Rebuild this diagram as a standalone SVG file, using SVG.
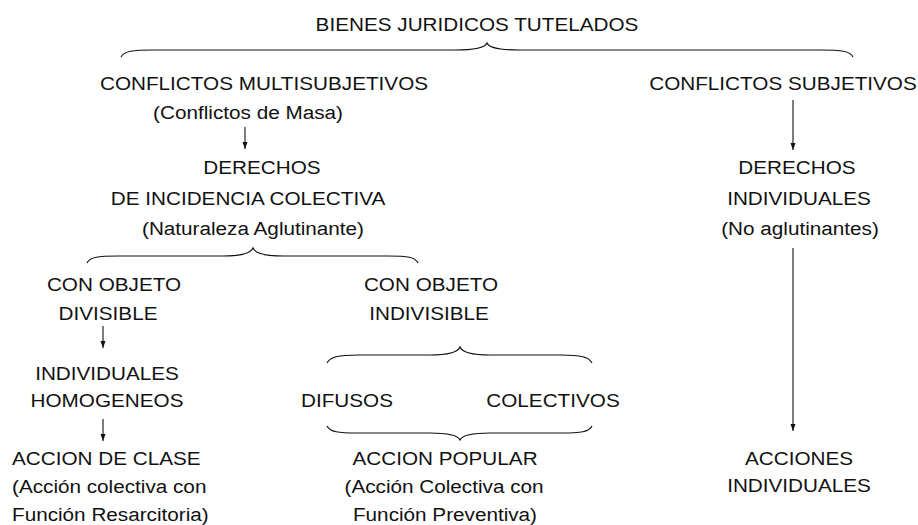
<svg xmlns="http://www.w3.org/2000/svg" width="918" height="525" viewBox="0 0 918 525">
<style>
.t{font-family:"Liberation Sans",Arial,sans-serif;font-size:19px;fill:#111;text-anchor:middle}
.s{text-anchor:start}
.br{fill:none;stroke:#111;stroke-width:1.2}
.ar{stroke:#111;stroke-width:1.1;fill:none}
</style>
<defs>
<marker id="ah" markerUnits="userSpaceOnUse" markerWidth="7" markerHeight="6" refX="7" refY="3" orient="auto">
<path d="M0,0.5 L7,3 L0,5.5 z" fill="#111"/>
</marker>
</defs>
<rect width="918" height="525" fill="#fff"/>
<g id="connectors">
<path class="br" d="M121,57 C124,51 133,50 153,50 L455,50 C475,50 485,48 487,43 C489,48 499,50 519,50 L821,50 C841,50 850,51 853,57"/>
<path class="br" d="M87,263 C90,257 98,256 118,256 L223,256 C243,256 251,253 253,248 C255,253 263,256 283,256 L388,256 C408,256 415,257 418,263"/>
<path class="br" d="M327,363 C330,357 338,355 358,355 L430,355 C450,355 458,352 460,347 C462,352 470,355 490,355 L561,355 C581,355 589,357 592,363"/>
<path class="br" d="M327,426 C330,432 338,433 358,433 L430,433 C450,433 458,436 460,440 C462,436 470,433 490,433 L561,433 C581,433 589,432 592,426"/>
<line class="ar" x1="245" y1="127" x2="245" y2="149" marker-end="url(#ah)"/>
<line class="ar" x1="103" y1="326" x2="103" y2="348" marker-end="url(#ah)"/>
<line class="ar" x1="103" y1="419" x2="103" y2="441" marker-end="url(#ah)"/>
<line class="ar" x1="793" y1="100" x2="793" y2="150" marker-end="url(#ah)"/>
<line class="ar" x1="793" y1="248" x2="793" y2="431" marker-end="url(#ah)"/>
</g>
<g id="n-bienes"><text class="t" transform="translate(477,31) scale(1.09,1)">BIENES JURIDICOS TUTELADOS</text></g>
<g id="n-multi">
<text class="t" transform="translate(264,90) scale(1.09,1)">CONFLICTOS MULTISUBJETIVOS</text>
<text class="t" transform="translate(248,119) scale(1.09,1)">(Conflictos de Masa)</text>
</g>
<g id="n-subj"><text class="t" transform="translate(783,90) scale(1.09,1)">CONFLICTOS SUBJETIVOS</text></g>
<g id="n-dic">
<text class="t" transform="translate(262,174) scale(1.09,1)">DERECHOS</text>
<text class="t" transform="translate(248,205) scale(1.09,1)">DE INCIDENCIA COLECTIVA</text>
<text class="t" transform="translate(253,235) scale(1.09,1)">(Naturaleza Aglutinante)</text>
</g>
<g id="n-dind">
<text class="t" transform="translate(797,174) scale(1.09,1)">DERECHOS</text>
<text class="t" transform="translate(799,205) scale(1.09,1)">INDIVIDUALES</text>
<text class="t" transform="translate(800,235) scale(1.09,1)">(No aglutinantes)</text>
</g>
<g id="n-div">
<text class="t" transform="translate(114,291) scale(1.09,1)">CON OBJETO</text>
<text class="t" transform="translate(108,320) scale(1.09,1)">DIVISIBLE</text>
</g>
<g id="n-indiv">
<text class="t" transform="translate(431,291) scale(1.09,1)">CON OBJETO</text>
<text class="t" transform="translate(429,320) scale(1.09,1)">INDIVISIBLE</text>
</g>
<g id="n-ih">
<text class="t" transform="translate(107,380) scale(1.09,1)">INDIVIDUALES</text>
<text class="t" transform="translate(107,407) scale(1.09,1)">HOMOGENEOS</text>
</g>
<g id="n-difusos"><text class="t" transform="translate(347,407) scale(1.09,1)">DIFUSOS</text></g>
<g id="n-colectivos"><text class="t" transform="translate(553,407) scale(1.09,1)">COLECTIVOS</text></g>
<g id="n-clase">
<text class="t s" transform="translate(12,465) scale(1.09,1)">ACCION DE CLASE</text>
<text class="t s" transform="translate(12,493) scale(1.09,1)">(Acción colectiva con</text>
<text class="t s" transform="translate(12,521) scale(1.09,1)">Función Resarcitoria)</text>
</g>
<g id="n-popular">
<text class="t" transform="translate(445,465) scale(1.09,1)">ACCION POPULAR</text>
<text class="t" transform="translate(444,493) scale(1.09,1)">(Acción Colectiva con</text>
<text class="t" transform="translate(445,521) scale(1.09,1)">Función Preventiva)</text>
</g>
<g id="n-acciones">
<text class="t" transform="translate(799,465) scale(1.09,1)">ACCIONES</text>
<text class="t" transform="translate(799,492) scale(1.09,1)">INDIVIDUALES</text>
</g>
</svg>
